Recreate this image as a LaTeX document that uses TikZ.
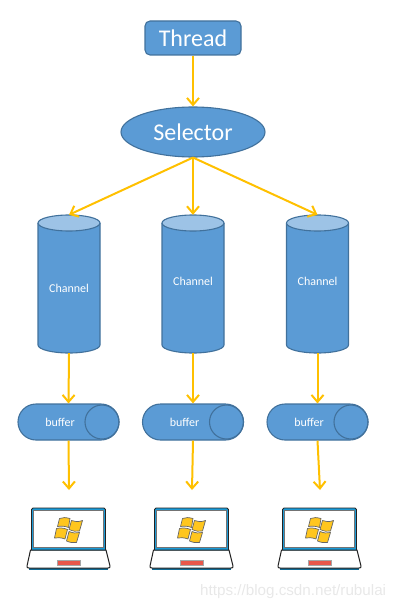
\documentclass[tikz,border=0pt]{standalone}
\usepackage{fontspec}
\setmainfont{Carlito}
\newfontfamily\wmfont{Liberation Sans}
\usetikzlibrary{shapes.geometric,arrows.meta}
\definecolor{fillblue}{HTML}{5B9BD5}
\definecolor{edgeblue}{HTML}{41719C}
\definecolor{lightcap}{HTML}{9DC3E6}
\definecolor{flow}{HTML}{FFC000}
\definecolor{lapblue}{HTML}{1B9AD6}
\definecolor{lapdark}{HTML}{0F6A94}
\definecolor{lapline}{HTML}{222222}
\definecolor{padred}{HTML}{E8574A}
\definecolor{flag}{HTML}{FFC61E}
\tikzset{
  x=1pt,y=-1pt,
  shapeedge/.style={draw=edgeblue,line width=1.1pt,fill=fillblue},
  flowarrow/.style={draw=flow,line width=2pt,-{Straight Barb[length=7pt,width=12pt,line width=2pt]}},
  threadbox/.style={shapeedge,rounded corners=5pt,minimum width=96pt,minimum height=34pt,inner sep=0pt},
  selectorbox/.style={shapeedge,ellipse,minimum width=144pt,minimum height=50pt,inner sep=0pt},
  cylarea/.style={minimum width=62pt,minimum height=138pt,inner sep=0pt},
  bufbox/.style={shapeedge,rounded corners=18pt,minimum width=101pt,minimum height=36pt,inner sep=0pt},
  lighttext/.style={text=white,inner sep=0pt,font=\fontsize{12pt}{14pt}\selectfont},
  bigtext/.style={text=white,font=\fontsize{24pt}{28pt}\selectfont},
  flagpart/.style={draw=black!60,line width=.7pt,fill=flag,line join=round},
  lapscreen/.style={draw=lapline,line width=.8pt,fill=lapblue,line join=round},
  lapbase/.style={draw=lapline,line width=1pt,fill=white,line join=round},
  watermark/.style={text=black!9,font=\wmfont\fontsize{15.2pt}{17pt}\selectfont,inner sep=0pt}
}
\newcommand{\cylinderat}[3]{% name, x, labelY
  \node[cylarea] (#1) at (#2,284) {};
  \fill[fillblue] (#2-31,223) -- (#2-31,345) arc[start angle=180,end angle=0,x radius=31,y radius=8] -- (#2+31,223) -- cycle;
  \draw[edgeblue,line width=1.1pt] (#2-31,223) -- (#2-31,345) arc[start angle=180,end angle=0,x radius=31,y radius=8] -- (#2+31,223);
  \draw[edgeblue,line width=1.1pt,fill=lightcap] (#2,223) ellipse[x radius=31,y radius=8];
  \node[lighttext] (#1t) at (#2,#3) {Channel};
}
\newcommand{\bufferat}[2]{% name, x
  \node[bufbox] (#1) at (#2,422) {};
  \draw[edgeblue,line width=1.1pt] (#2+33.5,422) circle[radius=17];
  \node[lighttext] (#1t) at (#2-8.5,422) {buffer};
}
\newcommand{\laptopat}[2]{% name, shift
  \coordinate (#1) at (#2+69,490);
  \begin{scope}[xshift=#2pt]
    \draw[lapdark,line width=2pt] (29,568.5) -- (108,568.5);
    \draw[lapbase] (30.5,550) -- (106,550) -- (110,566) .. controls (110.3,567.5) and (109.5,568) .. (108,568) -- (29,568) .. controls (27.5,568) and (26.7,567.5) .. (27,566) -- cycle;
    \draw[lapscreen] (31.5,509.5) .. controls (31.5,508.5) and (32,508) .. (33,508) -- (104,508) .. controls (105,508) and (105.5,508.5) .. (105.5,509.5) -- (105.5,550) -- (31.5,550) -- cycle;
    \fill[white] (33.5,510) rectangle (103.5,547.5);
    \draw[black!55,line width=.5pt] (33.5,510) rectangle (103.5,547.5);
    \fill[padred,draw=black!35,line width=.4pt] (57.5,560.5) rectangle (80,565);
    \draw[flagpart] (59.5,518.5) .. controls (63,517) and (66,517.5) .. (70,518.5) -- (68.5,527.5) .. controls (65,526) and (61,526) .. (57.5,526.5) -- cycle;
    \draw[flagpart] (71.5,520.5) .. controls (75,522) and (78,522) .. (82.5,520.5) -- (79.5,531) .. controls (76,532) and (73,531) .. (69,529.5) -- cycle;
    \draw[flagpart] (56.5,528.5) .. controls (60,527.5) and (64,528) .. (67.5,529.5) -- (65,539) .. controls (61,537.5) and (58,537.5) .. (54.5,538) -- cycle;
    \draw[flagpart] (69,531.5) .. controls (73,533) and (76,533.5) .. (79.5,532.5) -- (76.5,542.5) .. controls (73,543) and (70,542.5) .. (66.5,541) -- cycle;
  \end{scope}
}
\begin{document}
\begin{tikzpicture}
\useasboundingbox (0,0) rectangle (402,610);
\node[threadbox,bigtext] (thread) at (193,38) {Thread};
\node[selectorbox,bigtext] (selector) at (193,132) {Selector};
\cylinderat{ca}{69}{288}
\cylinderat{cb}{193}{281}
\cylinderat{cc}{317.5}{281}
\bufferat{ba}{68.5}
\bufferat{bb}{193}
\bufferat{bc}{317.5}
\laptopat{la}{0}
\laptopat{lb}{123}
\laptopat{lc}{251}
\draw[flowarrow] (thread.south) -- (selector.north);
\draw[flowarrow] (selector.south) -- (ca.north);
\draw[flowarrow] (selector.south) -- (cb.north);
\draw[flowarrow] (selector.south) -- (cc.north);
\draw[flowarrow] (ca.south) -- (ba.north);
\draw[flowarrow] (cb.south) -- (bb.north);
\draw[flowarrow] (cc.south) -- (bc.north);
\draw[flowarrow] (ba.south) -- (la);
\draw[flowarrow] (bb.south) -- (lb);
\draw[flowarrow] (bc.south) -- (lc);
\node[watermark,anchor=west] (mark) at (200,592) {https://blog.csdn.net/rubulai};
\end{tikzpicture}
\end{document}
